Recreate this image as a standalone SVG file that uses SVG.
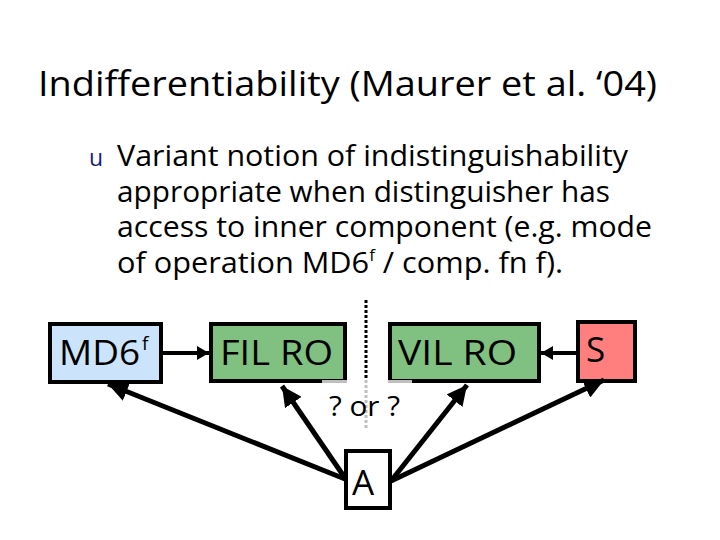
<svg xmlns="http://www.w3.org/2000/svg" width="720" height="540" viewBox="0 0 720 540">
<defs>
<style>
.t{font-family:"Open Sans","Noto Sans","DejaVu Sans",sans-serif;fill:#000}
.box{stroke:#000;stroke-width:4}
.c{stroke:#000;fill:none}
</style>
<marker id="ah" markerUnits="userSpaceOnUse" markerWidth="22" markerHeight="20" refX="20" refY="10" orient="auto">
<path d="M0,0 L20,10 L0,20 Z" fill="#000"/>
</marker>
<marker id="as" markerUnits="userSpaceOnUse" markerWidth="14" markerHeight="14" refX="12" refY="7" orient="auto">
<path d="M0,0 L12,7 L0,14 Z" fill="#000"/>
</marker>
</defs>
<rect width="720" height="540" fill="#fff"/>
<text class="t" x="38" y="96" font-size="34" textLength="619" lengthAdjust="spacingAndGlyphs">Indifferentiability (Maurer et al. ‘04)</text>
<text x="89" y="166" font-size="23" fill="#1a1a7a" font-family="'Open Sans','DejaVu Sans',sans-serif">u</text>
<g class="t" font-size="29">
<text x="117" y="166" textLength="511" lengthAdjust="spacingAndGlyphs">Variant notion of indistinguishability</text>
<text x="117" y="202" textLength="493" lengthAdjust="spacingAndGlyphs">appropriate when distinguisher has</text>
<text x="117" y="237" textLength="535" lengthAdjust="spacingAndGlyphs">access to inner component (e.g. mode</text>
<text x="117" y="273" textLength="446" lengthAdjust="spacingAndGlyphs">of operation MD6<tspan font-size="16" dy="-12">f</tspan><tspan dy="12"> / comp. fn f).</tspan></text>
</g>
<g id="md6">
<rect class="box" x="50" y="324" width="111" height="58" fill="#cce4fb"/>
<text class="t" x="59" y="365" font-size="35"><tspan textLength="81" lengthAdjust="spacingAndGlyphs">MD6</tspan><tspan font-size="19" dy="-15" dx="2">f</tspan></text>
</g>
<g id="filro">
<rect class="box" x="211" y="324" width="134" height="57" fill="#80c080"/>
<text class="t" x="220" y="365" font-size="35" textLength="113" lengthAdjust="spacingAndGlyphs">FIL RO</text>
</g>
<g id="vilro">
<rect class="box" x="390" y="324" width="149" height="57" fill="#80c080"/>
<text class="t" x="398" y="365" font-size="35" textLength="119" lengthAdjust="spacingAndGlyphs">VIL RO</text>
</g>
<g id="s">
<rect class="box" x="578" y="322" width="57" height="59" fill="#ff7f7f"/>
<text class="t" x="586" y="362" font-size="35">S</text>
</g>
<g id="a">
<rect class="box" x="346" y="451" width="44" height="57" fill="#fff"/>
<text class="t" x="352" y="495" font-size="35">A</text>
</g>
<g id="connectors">
<line class="c" x1="366" y1="300" x2="366" y2="428" stroke-width="3" stroke-dasharray="3,2"/>
<line class="c" x1="163" y1="353" x2="209" y2="353" stroke-width="4" marker-end="url(#as)"/>
<line class="c" x1="576" y1="353" x2="541" y2="353" stroke-width="4" marker-end="url(#as)"/>
<line class="c" x1="345" y1="479" x2="108" y2="384" stroke-width="5" marker-end="url(#ah)"/>
<line class="c" x1="345" y1="478" x2="282" y2="386" stroke-width="5" marker-end="url(#ah)"/>
<line class="c" x1="391" y1="481" x2="467" y2="385" stroke-width="5" marker-end="url(#ah)"/>
<line class="c" x1="391" y1="481" x2="604" y2="380" stroke-width="5" marker-end="url(#ah)"/>
</g>
<g id="label">
<rect x="322" y="380" width="90" height="48" fill="#fff" fill-opacity="0.75"/>
<text class="t" x="329" y="416" font-size="27" textLength="71" lengthAdjust="spacingAndGlyphs">? or ?</text>
</g>
</svg>
